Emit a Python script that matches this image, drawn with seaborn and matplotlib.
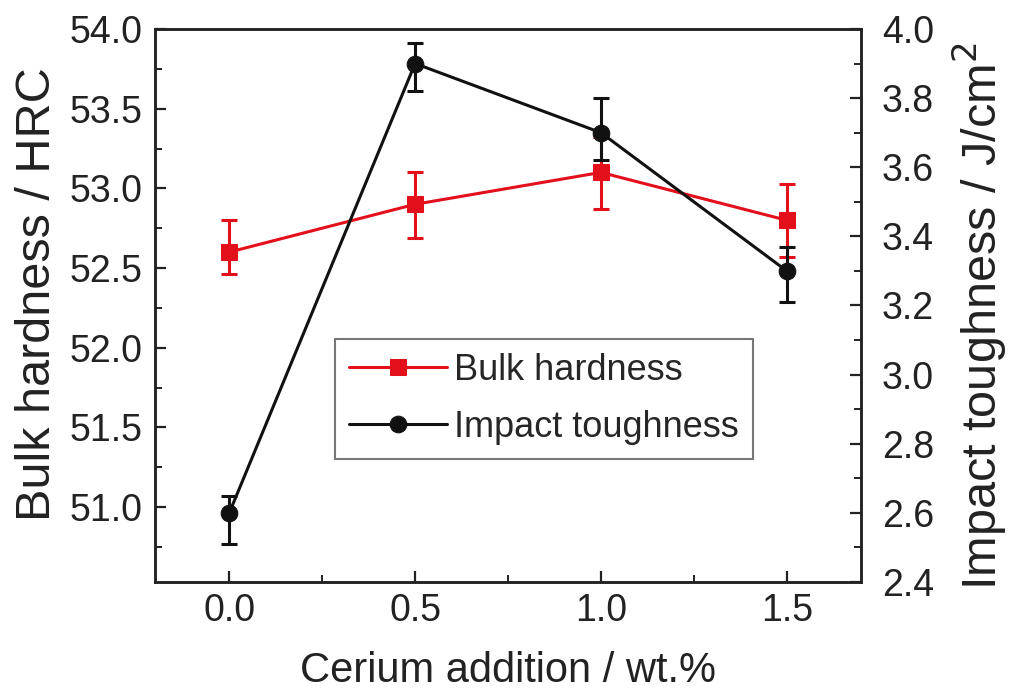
import matplotlib
matplotlib.use("Agg")
import matplotlib.pyplot as plt
from matplotlib.ticker import MultipleLocator
import seaborn as sns
import pandas as pd

# Cerium content (wt.%)
cerium = [0.0, 0.5, 1.0, 1.5]

# Bulk hardness (HRC) with lower / upper error
hardness = [52.6, 52.9, 53.1, 52.8]
hard_err_lo = [0.14, 0.21, 0.23, 0.23]
hard_err_hi = [0.20, 0.20, 0.22, 0.23]

# Impact toughness (J/cm^2) with lower / upper error
toughness = [2.6, 3.9, 3.7, 3.3]
tough_err_lo = [0.09, 0.08, 0.08, 0.09]
tough_err_hi = [0.05, 0.06, 0.10, 0.07]

df = pd.DataFrame({"cerium": cerium, "hardness": hardness, "toughness": toughness})

sns.set_theme(style="ticks")
plt.rcParams["font.family"] = ["Liberation Sans", "DejaVu Sans"]

red = "#e3101c"
black = "#111111"
ink = "#222222"

fig = plt.figure(figsize=(10.15, 7.0), dpi=100)
ax = fig.add_axes([0.1527, 0.1686, 0.6956, 0.79])
ax2 = ax.twinx()

# Hardness series on the left axis
ax.errorbar(cerium, hardness, yerr=[hard_err_lo, hard_err_hi], fmt="none",
            ecolor=red, elinewidth=2.2, capsize=6, capthick=2.2, zorder=2)
sns.lineplot(data=df, x="cerium", y="hardness", ax=ax, color=red, lw=2.2,
             marker="s", markersize=11, markeredgecolor=red,
             label="Bulk hardness", legend=False, zorder=3)

# Toughness series on the right axis
ax2.errorbar(cerium, toughness, yerr=[tough_err_lo, tough_err_hi], fmt="none",
             ecolor=black, elinewidth=2.2, capsize=6, capthick=2.2, zorder=2)
sns.lineplot(data=df, x="cerium", y="toughness", ax=ax2, color=black, lw=2.2,
             marker="o", markersize=12, markeredgecolor=black,
             label="Impact toughness", legend=False, zorder=3)

ax.set_xlim(-0.2, 1.7)
ax.set_ylim(50.53, 54.0)
ax2.set_ylim(2.4, 4.0)

ax.xaxis.set_minor_locator(MultipleLocator(0.25))
ax.yaxis.set_minor_locator(MultipleLocator(0.25))
ax2.yaxis.set_minor_locator(MultipleLocator(0.1))

xt = [0.0, 0.5, 1.0, 1.5]
yt = [51.0, 51.5, 52.0, 52.5, 53.0, 53.5, 54.0]
y2t = [2.4, 2.6, 2.8, 3.0, 3.2, 3.4, 3.6, 3.8, 4.0]
ax.set_xticks(xt)
ax.set_xticklabels([f"{v:.1f}" for v in xt])
ax.set_yticks(yt)
ax.set_yticklabels([f"{v:.1f}" for v in yt])
ax2.set_yticks(y2t)
ax2.set_yticklabels([f"{v:.1f}" for v in y2t])

for a in (ax, ax2):
    for s in a.spines.values():
        s.set_linewidth(1.8)
        s.set_color(ink)
    a.tick_params(which="major", direction="in", length=8, width=1.6,
                  labelsize=27, colors=ink, labelcolor=ink)
    a.tick_params(which="minor", direction="in", length=5, width=1.4, colors=ink)
ax.tick_params(axis="x", pad=8)
ax.tick_params(axis="y", pad=9)
ax2.tick_params(axis="y", pad=15)

ax.set_xlabel("Cerium addition / wt.%", fontsize=30, color=ink, labelpad=16)
ax.set_ylabel("Bulk hardness / HRC", fontsize=35, color=ink, labelpad=7, y=0.52)
ax2.set_ylabel("Impact toughness / J/cm$^2$", fontsize=35, color=ink, labelpad=12, y=0.48)

h1, l1 = ax.get_legend_handles_labels()
h2, l2 = ax2.get_legend_handles_labels()
leg = ax2.legend(h1 + h2, l1 + l2, loc="upper left", bbox_to_anchor=(0.255, 0.44),
                 fontsize=26, frameon=True, fancybox=False, edgecolor="#555555",
                 handlelength=2.7, borderpad=0.4, labelspacing=0.6, handletextpad=0.2,
                 borderaxespad=0)
leg.get_frame().set_linewidth(1.5)

fig.savefig("out.png", dpi=100)
